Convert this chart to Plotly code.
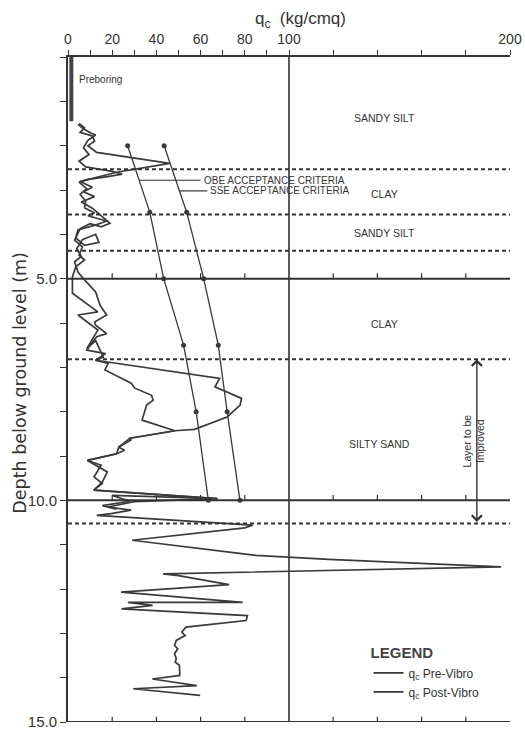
import plotly.graph_objects as go

# ---------------- data ----------------
pre_depth = [1.52, 1.62, 1.72, 1.76, 1.88, 2.05, 2.20, 2.35, 2.48, 2.58, 2.64, 2.70, 2.76, 2.82,
             2.97, 3.10, 3.25, 3.40, 3.52, 3.58, 3.70, 3.78, 3.90, 4.08, 4.25, 4.18, 4.00, 4.12,
             4.32, 4.50, 4.62, 4.85, 5.00, 5.30, 5.60, 5.82, 5.98, 6.05, 6.24, 6.31, 6.50, 6.61,
             6.69, 6.84, 6.91, 7.06, 7.36, 7.47, 7.63, 7.74, 7.85, 8.19, 8.43, 8.60, 8.64, 8.80,
             8.87, 8.95, 9.10, 9.21, 9.47, 9.62, 9.77, 9.96, 9.89, 10.02, 10.12, 10.20]
pre_qc = [4.5, 7.0, 10.5, 12.5, 9.0, 7.0, 9.5, 5.0, 8.0, 20.0, 24.5, 18.0, 9.0, 5.0,
          8.5, 5.5, 8.0, 7.5, 12.0, 9.0, 17.5, 13.0, 4.5, 3.5, 7.5, 14.0, 12.5, 6.5,
          4.0, 6.0, 3.0, 4.5, 7.0, 12.5, 14.5, 17.5, 12.0, 12.5, 17.5, 13.0, 10.0, 8.5,
          17.0, 12.5, 18.2, 16.7, 28.6, 30.2, 37.8, 38.5, 35.6, 33.5, 48.4, 28.0, 28.5, 23.0,
          25.6, 22.0, 8.8, 15.0, 11.8, 15.5, 11.7, 67.6, 20.0, 28.0, 15.5, 22.0]

post_depth = [1.50, 1.60, 1.70, 1.78, 1.90, 2.00, 2.15, 2.40, 2.60, 2.81, 2.94, 3.04, 3.15, 3.27,
              3.41, 3.75, 3.83, 3.76, 3.87, 4.13, 4.28, 4.47, 4.58, 4.73, 4.96, 5.33, 5.75, 5.82,
              6.16, 6.58, 6.40, 6.77, 6.84, 7.25, 7.44, 7.70, 7.85, 8.12, 8.40, 8.43, 8.60, 8.80,
              8.95, 9.10, 9.36, 9.59, 9.77, 9.96, 10.03, 10.15, 10.22, 10.30, 10.34, 10.56, 10.62,
              10.90, 11.24, 11.33, 11.50, 11.58, 11.66, 11.70, 11.90, 12.07, 12.30, 12.30, 12.37,
              12.45, 12.60, 12.71, 12.86, 12.97, 13.05, 13.16, 13.27, 13.35, 13.46, 13.57, 13.65,
              13.72, 13.95, 14.03, 14.18, 14.25, 14.40]
post_qc = [5.0, 7.5, 5.5, 11.0, 12.0, 9.0, 13.0, 46.0, 22.0, 5.5, 11.0, 7.0, 12.0, 6.0,
           11.0, 19.0, 15.0, 10.0, 5.5, 3.0, 6.5, 5.0, 7.5, 3.5, 2.0, 2.0, 13.5, 4.5,
           13.5, 8.5, 12.5, 16.0, 12.5, 68.6, 66.5, 78.5, 77.9, 72.0, 57.3, 48.4, 28.0, 23.0,
           22.0, 8.8, 17.8, 15.5, 11.7, 67.6, 30.0, 18.0, 28.5, 19.5, 13.0, 83.5, 80.0,
           29.0, 85.0, 118.0, 196.0, 117.0, 43.0, 50.0, 72.9, 24.0, 79.0, 27.1, 38.3,
           24.2, 81.2, 80.6, 53.4, 51.5, 53.0, 49.0, 48.2, 49.7, 48.2, 49.0, 48.5,
           50.4, 50.6, 38.2, 58.3, 29.5, 59.8]

crit_depth = [2.0, 3.5, 5.0, 6.5, 8.0, 10.0]
obe_qc = [27.0, 37.0, 43.3, 52.3, 58.0, 63.5]
sse_qc = [43.5, 53.7, 61.4, 68.0, 72.0, 77.8]

preboring_depth = [0.0, 1.45]
preboring_qc = [1.5, 1.5]

layer_bounds = [2.53, 3.55, 4.37, 6.82, 10.52]
layer_names = ["SANDY SILT", "CLAY", "SANDY SILT", "CLAY", "SILTY SAND"]
layer_label_depth = [1.38, 3.08, 3.98, 6.02, 8.72]

x_tickvals = [0, 20, 40, 60, 80, 100, 200]
x_ticktext = ["0", "20", "40", "60", "80", "100", "200"]
x_minor = [10, 30, 50, 70, 90, 120, 140, 160, 180]
y_tickvals = [5, 10, 15]
y_ticktext = ["5.0", "10.0", "15.0"]
grid_depths = [5, 10, 15]
grid_tick_q = [20, 40, 60, 80, 120, 140, 160, 180]

INK = "#333333"
FONT = "Liberation Sans, Arial, sans-serif"

fig = go.Figure()

fig.add_trace(go.Scatter(x=pre_qc, y=pre_depth, mode="lines", name="q<sub>c</sub> Pre-Vibro",
                         line=dict(color="#3a3a3a", width=1.7)))
fig.add_trace(go.Scatter(x=post_qc, y=post_depth, mode="lines", name="q<sub>c</sub> Post-Vibro",
                         line=dict(color="#3a3a3a", width=1.7)))
fig.add_trace(go.Scatter(x=obe_qc, y=crit_depth, mode="lines+markers", showlegend=False,
                         line=dict(color="#3a3a3a", width=1.3), marker=dict(size=5, color="#3a3a3a")))
fig.add_trace(go.Scatter(x=sse_qc, y=crit_depth, mode="lines+markers", showlegend=False,
                         line=dict(color="#3a3a3a", width=1.3), marker=dict(size=5, color="#3a3a3a")))
fig.add_trace(go.Scatter(x=preboring_qc, y=preboring_depth, mode="lines", showlegend=False,
                         line=dict(color="#444", width=4)))

shapes = []
for d in grid_depths:
    shapes.append(dict(type="line", xref="x", yref="y", x0=0, x1=200, y0=d, y1=d,
                       line=dict(color=INK, width=2)))
    for q in grid_tick_q:
        shapes.append(dict(type="line", xref="x", yref="y", x0=q, x1=q, y0=d, y1=d - 0.12,
                           line=dict(color=INK, width=1.2)))
shapes.append(dict(type="line", xref="x", yref="y", x0=100, x1=100, y0=0, y1=15,
                   line=dict(color=INK, width=1.6)))
for d in layer_bounds:
    shapes.append(dict(type="line", xref="x", yref="y", x0=0, x1=200, y0=d, y1=d,
                       line=dict(color=INK, width=2, dash="4px,3px")))
shapes.append(dict(type="line", xref="x", yref="y", x0=32.2, x1=60, y0=2.78, y1=2.78,
                   line=dict(color=INK, width=1.2)))
shapes.append(dict(type="line", xref="x", yref="y", x0=50.5, x1=63, y0=3.02, y1=3.02,
                   line=dict(color=INK, width=1.2)))

annotations = []
for name, d in zip(layer_names, layer_label_depth):
    annotations.append(dict(x=143 if name != "SILTY SAND" else 141, y=d, xref="x", yref="y",
                            xanchor="center", yanchor="middle",
                            text=name, showarrow=False, font=dict(family=FONT, size=10.5, color=INK)))
annotations.append(dict(x=60.5, y=2.78, xref="x", yref="y", text="OBE ACCEPTANCE CRITERIA",
                        showarrow=False, xanchor="left", yanchor="middle",
                        font=dict(family=FONT, size=10, color=INK)))
annotations.append(dict(x=63.5, y=3.02, xref="x", yref="y", text="SSE ACCEPTANCE CRITERIA",
                        showarrow=False, xanchor="left", yanchor="middle",
                        font=dict(family=FONT, size=10, color=INK)))
annotations.append(dict(x=4, y=0.5, xref="x", yref="y", text="Preboring", showarrow=False,
                        xanchor="left", yanchor="middle", font=dict(family=FONT, size=10, color=INK)))
annotations.append(dict(x=185, y=6.82, ax=185, ay=10.52, xref="x", yref="y", axref="x", ayref="y",
                        text="", showarrow=True, arrowside="end+start", arrowhead=4,
                        arrowsize=1.4, arrowwidth=1.4, arrowcolor=INK))
annotations.append(dict(x=183.7, y=8.65, xref="x", yref="y", text="Layer to be<br>Improved",
                        xanchor="center", yanchor="middle",
                        showarrow=False, textangle=-90, font=dict(family=FONT, size=10.5, color=INK)))
annotations.append(dict(x=0.525, y=1.056, xref="paper", yref="paper", showarrow=False,
                        xanchor="center", yanchor="middle",
                        text="q<sub>c</sub>  (kg/cmq)", font=dict(family=FONT, size=17, color=INK)))
annotations.append(dict(x=-0.109, y=0.51, xref="paper", yref="paper", showarrow=False,
                        xanchor="center", yanchor="middle",
                        text="Depth below ground level (m)", textangle=-90,
                        font=dict(family="DejaVu Sans, sans-serif", size=17.5, color=INK)))

fig.update_layout(
    width=525, height=740,
    margin=dict(l=68, r=15, t=57, b=18),
    paper_bgcolor="white", plot_bgcolor="white",
    showlegend=True,
    legend=dict(x=0.68, y=0.125, xanchor="left", yanchor="top",
                title=dict(text="<b>LEGEND</b>", font=dict(family=FONT, size=15, color="#444")),
                font=dict(family=FONT, size=12, color=INK), bgcolor="rgba(0,0,0,0)",
                tracegroupgap=2),
    shapes=shapes, annotations=annotations,
    xaxis=dict(range=[0, 200], side="top", showline=True, linecolor=INK, linewidth=2,
               automargin=False,
               ticks="outside", ticklen=5, tickwidth=1.2, tickcolor=INK,
               tickvals=x_tickvals, ticktext=x_ticktext,
               minor=dict(tickvals=x_minor, ticks="outside", ticklen=5, tickcolor=INK, tickwidth=1.2),
               showgrid=False, zeroline=False, tickfont=dict(family=FONT, size=14, color=INK)),
    yaxis=dict(range=[15, 0], showline=True, linecolor=INK, linewidth=2,
               automargin=False,
               ticks="outside", ticklen=6, tickwidth=1.2, tickcolor=INK,
               tickvals=y_tickvals, ticktext=y_ticktext,
               minor=dict(dtick=1, ticks="outside", ticklen=6, tickcolor=INK, tickwidth=1.2),
               showgrid=False, zeroline=False, tickfont=dict(family=FONT, size=15, color=INK)),
)

fig.write_html("out.html", config={"displayModeBar": False},
               post_script="document.body.style.margin='0';document.body.style.overflow='hidden';")
